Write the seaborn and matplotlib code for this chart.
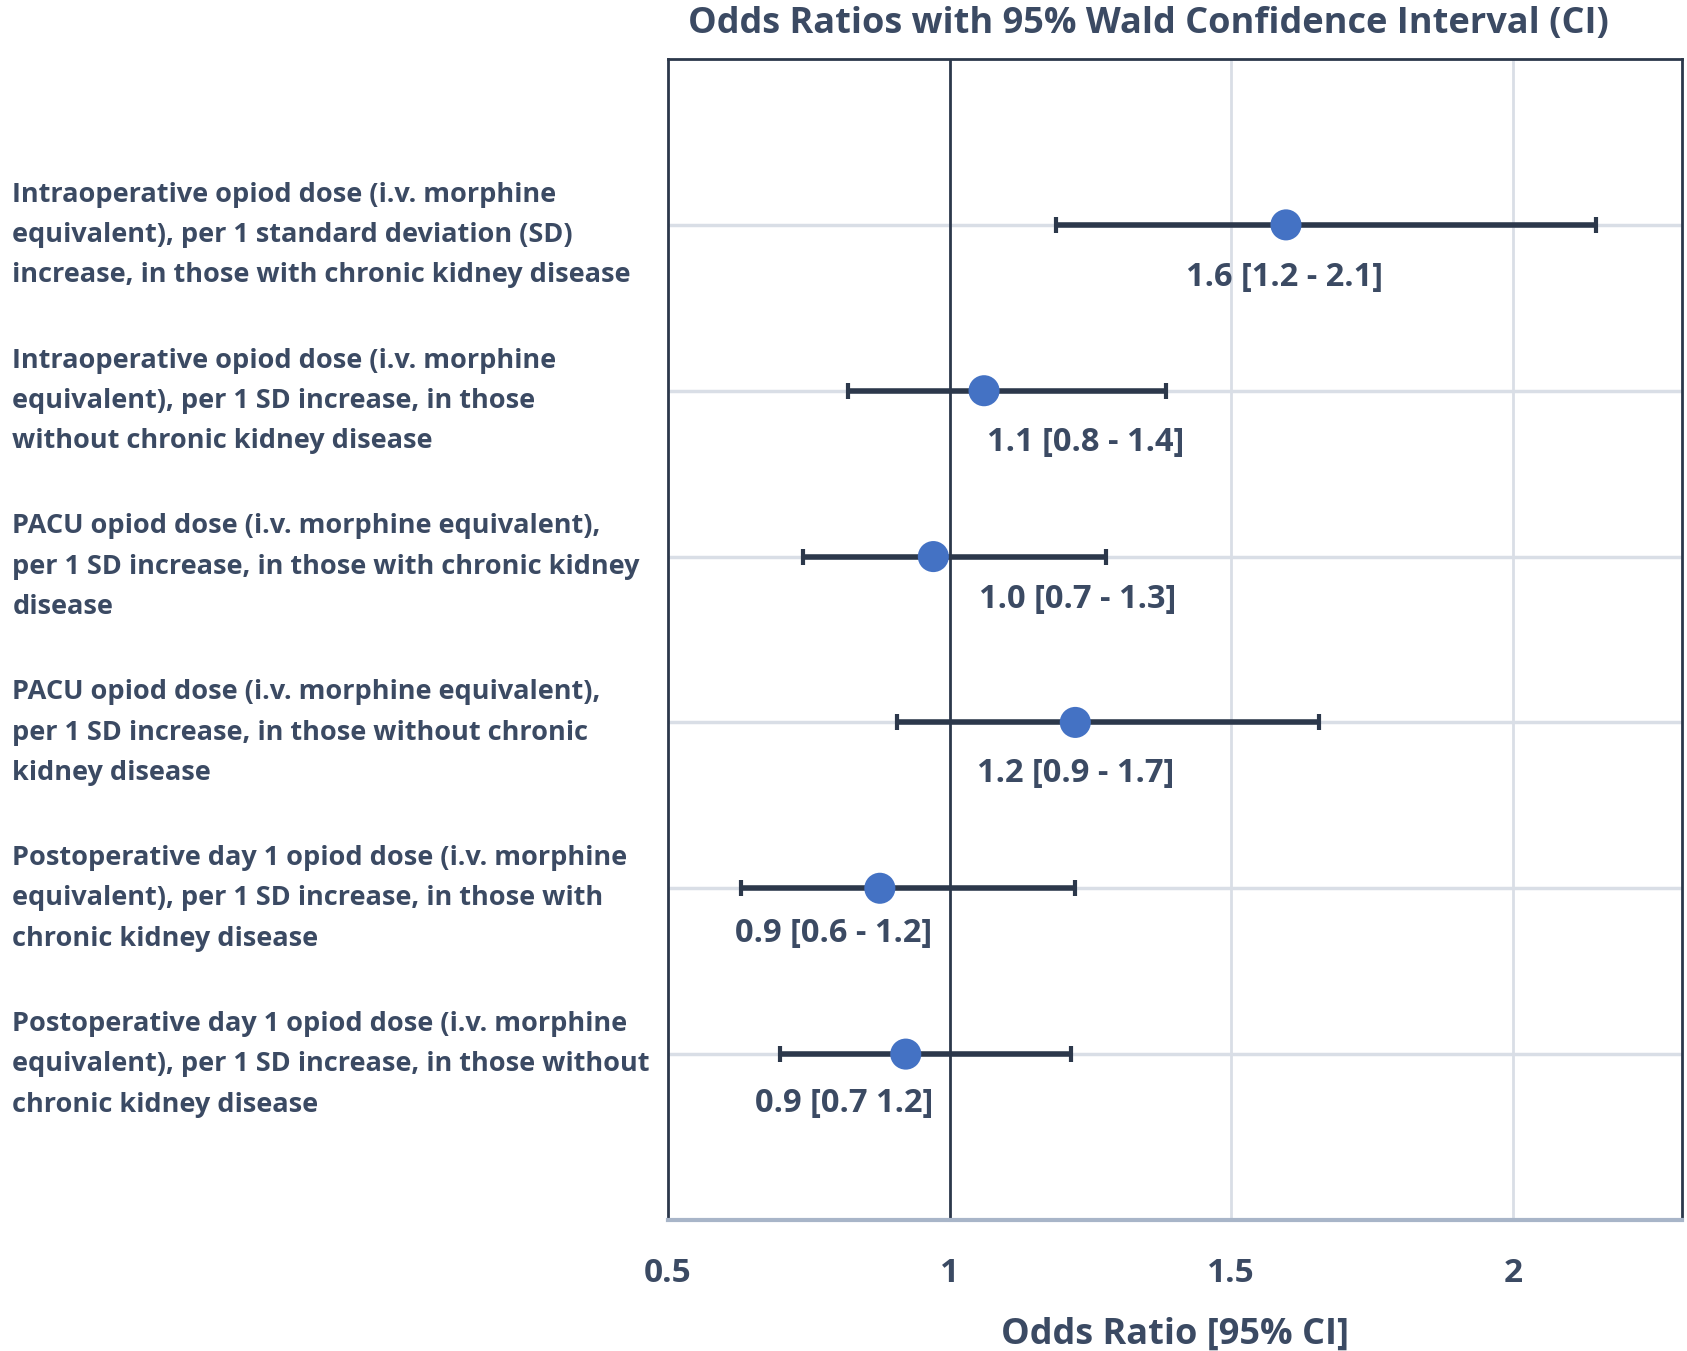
"""
Forest plot: odds ratios with 95% Wald confidence intervals
"""

import numpy as np
import pandas as pd
import matplotlib.pyplot as plt
import seaborn as sns

# Data
labels = [
    "Intraoperative opiod dose (i.v. morphine\nequivalent), per 1 standard deviation (SD)\nincrease, in those with chronic kidney disease",
    "Intraoperative opiod dose (i.v. morphine\nequivalent), per 1 SD increase, in those\nwithout chronic kidney disease",
    "PACU opiod dose (i.v. morphine equivalent),\nper 1 SD increase, in those with chronic kidney\ndisease",
    "PACU opiod dose (i.v. morphine equivalent),\nper 1 SD increase, in those without chronic\nkidney disease",
    "Postoperative day 1 opiod dose (i.v. morphine\nequivalent), per 1 SD increase, in those with\nchronic kidney disease",
    "Postoperative day 1 opiod dose (i.v. morphine\nequivalent), per 1 SD increase, in those without\nchronic kidney disease",
]
odds_ratio = [1.597, 1.061, 0.971, 1.223, 0.876, 0.922]
ci_low = [1.189, 0.819, 0.739, 0.906, 0.630, 0.698]
ci_high = [2.147, 1.384, 1.277, 1.655, 1.223, 1.216]
value_text = [
    "1.6 [1.2 - 2.1]",
    "1.1 [0.8 - 1.4]",
    "1.0 [0.7 - 1.3]",
    "1.2 [0.9 - 1.7]",
    "0.9 [0.6 - 1.2]",
    "0.9 [0.7 1.2]",
]
# x-centre of each value label (data units), as placed in the original
label_x = [1.595, 1.242, 1.227, 1.223, 0.794, 0.813]
label_dy = [0.32, 0.31, 0.26, 0.31, 0.27, 0.30]

TEXT = "#3B4A63"
DARK = "#2C384B"
BLUE = "#4472C4"
GRID = "#D9DEE6"

sns.set_style("white")
plt.rcParams['font.family'] = ['Open Sans', 'DejaVu Sans']

df = pd.DataFrame({"row": np.arange(len(labels)), "or": odds_ratio,
                   "lo": ci_low, "hi": ci_high})

fig = plt.figure(figsize=(16.87, 13.51), dpi=100)
ax = fig.add_axes([0.396, 0.097, 0.601, 0.8593])

ax.set_xlim(0.5, 2.3)
ax.set_ylim(len(labels), -1)

# gridlines
for x in [1.5, 2.0]:
    ax.axvline(x, color=GRID, lw=2, zorder=0)
for r in df["row"]:
    ax.axhline(r, color=GRID, lw=2.5, zorder=0)
ax.axvline(1.0, color=DARK, lw=2, zorder=1)

# confidence intervals
ax.errorbar(df["or"], df["row"],
            xerr=[df["or"] - df["lo"], df["hi"] - df["or"]],
            fmt="none", ecolor=DARK, elinewidth=4, capsize=6, capthick=3,
            zorder=2)

# point estimates
sns.scatterplot(data=df, x="or", y="row", ax=ax, s=500, color=BLUE,
                edgecolor="none", zorder=3, legend=False)

for r, (txt, lx, dy) in enumerate(zip(value_text, label_x, label_dy)):
    ax.text(lx, r + dy, txt, ha="center", va="center", fontsize=23.5,
            fontweight="bold", color=TEXT)

ax.set_yticks(df["row"])
ax.set_yticklabels(labels)
ax.set_xticks([0.5, 1, 1.5, 2])
ax.set_xticklabels(["0.5", "1", "1.5", "2"])
ax.tick_params(axis="y", length=10, width=2, color="#B8C2D0", pad=462,
               labelsize=19.5, labelcolor=TEXT)
ax.tick_params(axis="x", length=0, pad=27, labelsize=24, labelcolor=TEXT)
for lab in ax.get_yticklabels():
    lab.set_ha("left")
    lab.set_fontweight("bold")
    lab.set_linespacing(1.72)
for lab in ax.get_xticklabels():
    lab.set_fontweight("bold")

ax.set_xlabel("Odds Ratio [95% CI]", fontsize=26, fontweight="bold",
              color=TEXT, labelpad=19)
ax.set_ylabel("")

for side in ["left", "top", "right"]:
    ax.spines[side].set_color(DARK)
    ax.spines[side].set_linewidth(2)
ax.spines["bottom"].set_color("#A8B5C8")
ax.spines["bottom"].set_linewidth(3)

fig.text(0.6805, 0.982, "Odds Ratios with 95% Wald Confidence Interval (CI)",
         ha="center", va="center", fontsize=26, fontweight="bold",
         color=TEXT)

fig.savefig("out.png", dpi=100)
plt.close(fig)
